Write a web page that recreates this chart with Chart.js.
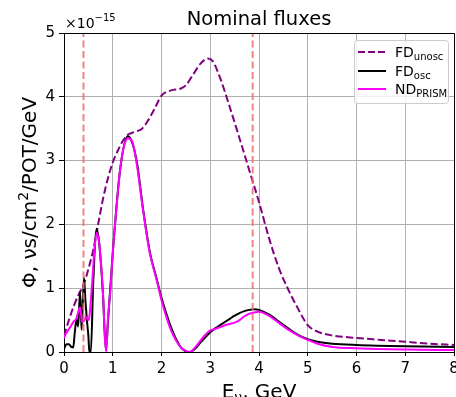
<!DOCTYPE html>
<html>
<head>
<meta charset="utf-8">
<script src="https://cdn.jsdelivr.net/npm/chart.js@4.4.1/dist/chart.umd.min.js"></script>
<style>
  html, body { margin: 0; padding: 0; background: #fff; }
  canvas { display: block; }
</style>
</head>
<body>
<canvas id="fluxChart" width="456" height="397"></canvas>
<script>
// fluxes in units of 1e-15 nu/cm2/POT/GeV, energies in GeV
const unoscEnergy = [0, 0.1, 0.2, 0.3, 0.4, 0.5, 0.6, 0.7, 0.8, 0.9, 1.0, 1.1, 1.2, 1.3, 1.45, 1.6, 1.7, 1.85, 2.0, 2.2, 2.4, 2.5, 2.65, 2.8, 2.95, 3.05, 3.2, 3.4, 3.6, 3.8, 4.0, 4.2, 4.4, 4.6, 4.8, 5.0, 5.2, 5.5, 6.0, 6.5, 7.0, 7.5, 8.0];
const unoscFlux = [0.25, 0.5, 0.72, 0.9, 1.05, 1.3, 1.6, 2.0, 2.4, 2.72, 2.97, 3.15, 3.3, 3.4, 3.45, 3.5, 3.6, 3.8, 4.02, 4.1, 4.13, 4.18, 4.35, 4.52, 4.6, 4.56, 4.3, 3.84, 3.35, 2.85, 2.35, 1.8, 1.33, 0.98, 0.68, 0.42, 0.32, 0.26, 0.22, 0.19, 0.16, 0.13, 0.11];

const oscEnergy = [0, 0.05, 0.1, 0.15, 0.19, 0.22, 0.26, 0.29, 0.33, 0.36, 0.41, 0.44, 0.47, 0.5, 0.52, 0.55, 0.6, 0.67, 0.72, 0.77, 0.8, 0.86, 0.9, 1.0, 1.15, 1.31, 1.4, 1.5, 1.62, 1.76, 1.9, 2.0, 2.1, 2.2, 2.3, 2.4, 2.5, 2.58, 2.7, 2.8, 2.9, 3.0, 3.1, 3.2, 3.3, 3.4, 3.5, 3.6, 3.7, 3.8, 3.9, 4.0, 4.1, 4.2, 4.3, 4.4, 4.6, 4.8, 5.0, 5.2, 5.5, 6.0, 7.0, 8.0];
const oscFlux = [0.05, 0.12, 0.12, 0.08, 0.07, 0.3, 0.52, 0.4, 0.95, 0.35, 1.17, 0.8, 0.5, 0.25, 0.0, 0.0, 1.1, 1.93, 1.72, 1.25, 0.9, 0.03, 0.45, 1.55, 2.85, 3.38, 3.28, 2.95, 2.25, 1.57, 1.15, 0.85, 0.6, 0.38, 0.2, 0.07, 0.01, 0.0, 0.06, 0.15, 0.23, 0.31, 0.37, 0.42, 0.47, 0.52, 0.57, 0.61, 0.64, 0.66, 0.67, 0.66, 0.63, 0.59, 0.54, 0.48, 0.37, 0.27, 0.2, 0.16, 0.13, 0.11, 0.09, 0.08];

const prismEnergy = [0, 0.05, 0.12, 0.2, 0.25, 0.33, 0.37, 0.42, 0.45, 0.5, 0.52, 0.57, 0.63, 0.67, 0.72, 0.77, 0.8, 0.84, 0.87, 0.9, 0.95, 1.0, 1.07, 1.15, 1.23, 1.31, 1.4, 1.49, 1.62, 1.76, 1.9, 2.0, 2.1, 2.17, 2.25, 2.33, 2.4, 2.47, 2.58, 2.7, 2.78, 2.9, 3.0, 3.1, 3.2, 3.3, 3.4, 3.5, 3.6, 3.7, 3.8, 3.9, 4.0, 4.1, 4.2, 4.3, 4.4, 4.6, 4.8, 5.0, 5.2, 5.5, 6.0, 7.0, 8.0];
const prismFlux = [0.22, 0.3, 0.38, 0.48, 0.52, 0.7, 0.47, 0.5, 0.55, 0.5, 0.55, 1.0, 1.65, 1.87, 1.72, 1.29, 0.92, 0.2, 0.01, 0.5, 0.95, 1.55, 2.2, 2.85, 3.22, 3.35, 3.3, 2.96, 2.23, 1.55, 1.13, 0.81, 0.55, 0.39, 0.25, 0.14, 0.07, 0.03, 0.0, 0.08, 0.16, 0.27, 0.34, 0.36, 0.39, 0.42, 0.44, 0.46, 0.5, 0.56, 0.6, 0.62, 0.63, 0.61, 0.57, 0.52, 0.46, 0.35, 0.26, 0.19, 0.13, 0.08, 0.06, 0.04, 0.03];

// oscillation maxima marked with vertical dashed lines
const markerEnergy = [0.4, 3.87];

const xTicks = [0, 1, 2, 3, 4, 5, 6, 7, 8];
const yTicks = [0, 1, 2, 3, 4, 5];

const FONT = '"DejaVu Sans", sans-serif';

function toPoints(xs, ys) {
    return xs.map((x, i) => ({ x: x, y: ys[i] }));
}

// draws "main" followed by a subscript/superscript, returns total width
function textWithSub(ctx, x, y, main, sub, size, subSize, shift) {
    ctx.font = size + 'px ' + FONT;
    ctx.fillText(main, x, y);
    const w = ctx.measureText(main).width;
    ctx.font = subSize + 'px ' + FONT;
    ctx.fillText(sub, x + w, y + shift);
    return w + ctx.measureText(sub).width;
}

function measureSub(ctx, main, sub, size, subSize) {
    ctx.font = size + 'px ' + FONT;
    const w = ctx.measureText(main).width;
    ctx.font = subSize + 'px ' + FONT;
    return w + ctx.measureText(sub).width;
}

const legendItems = [
    { main: 'FD', sub: 'unosc', color: '#800080', dash: [7, 3] },
    { main: 'FD', sub: 'osc', color: '#000000', dash: [] },
    { main: 'ND', sub: 'PRISM', color: '#ff00ff', dash: [] }
];

const textPlugin = {
    id: 'textPlugin',
    afterDraw(chart) {
        const ctx = chart.ctx;
        const area = chart.chartArea;
        ctx.save();

        // top and right spines
        ctx.strokeStyle = '#000';
        ctx.lineWidth = 1;
        ctx.beginPath();
        ctx.moveTo(area.left, Math.round(area.top) + 0.5);
        ctx.lineTo(Math.round(area.right) + 0.5, Math.round(area.top) + 0.5);
        ctx.lineTo(Math.round(area.right) + 0.5, area.bottom);
        ctx.stroke();

        ctx.fillStyle = '#000';
        ctx.textBaseline = 'alphabetic';

        // title
        ctx.font = '19.5px ' + FONT;
        ctx.textAlign = 'center';
        ctx.fillText('Nominal fluxes', (area.left + area.right) / 2, 25);
        ctx.textAlign = 'left';

        // offset text
        textWithSub(ctx, area.left + 1, 28, '\u00d710', '\u221215', 14, 10, -7);

        // x axis label
        const xw = measureSub(ctx, 'E', '\u03bd', 20, 14);
        ctx.font = '20px ' + FONT;
        const restW = ctx.measureText(', GeV').width;
        const x0 = (area.left + area.right) / 2 - (xw + restW) / 2;
        textWithSub(ctx, x0, 398, 'E', '\u03bd', 20, 14, 4);
        ctx.font = '20px ' + FONT;
        ctx.fillText(', GeV', x0 + xw, 398);

        // y axis label, rotated
        ctx.save();
        ctx.translate(36, (area.top + area.bottom) / 2);
        ctx.rotate(-Math.PI / 2);
        const partA = '\u03a6, \u03bds/cm';
        const partC = '/POT/GeV';
        ctx.font = '20px ' + FONT;
        const wa = ctx.measureText(partA).width;
        const wc = ctx.measureText(partC).width;
        ctx.font = '14px ' + FONT;
        const wb = ctx.measureText('2').width;
        const yx = -(wa + wb + wc) / 2;
        ctx.font = '20px ' + FONT;
        ctx.fillText(partA, yx, 0);
        ctx.font = '14px ' + FONT;
        ctx.fillText('2', yx + wa, -8);
        ctx.font = '20px ' + FONT;
        ctx.fillText(partC, yx + wa + wb, 0);
        ctx.restore();

        // legend box
        ctx.beginPath();
        ctx.roundRect(354.5, 40.5, 94, 63, 3);
        ctx.fillStyle = 'rgba(255,255,255,0.8)';
        ctx.fill();
        ctx.strokeStyle = '#cccccc';
        ctx.lineWidth = 1;
        ctx.stroke();

        const rows = [52, 71, 89];
        legendItems.forEach((item, i) => {
            const y = rows[i];
            ctx.beginPath();
            ctx.setLineDash(item.dash);
            ctx.strokeStyle = item.color;
            ctx.lineWidth = 2;
            ctx.moveTo(358, y);
            ctx.lineTo(386, y);
            ctx.stroke();
            ctx.setLineDash([]);
            ctx.fillStyle = '#000';
            textWithSub(ctx, 395, y + 5, item.main, item.sub, 14, 10, 3);
        });

        ctx.restore();
    }
};

function lineSet(label, xs, ys, color, width, dash) {
    return {
        label: label,
        data: toPoints(xs, ys),
        borderColor: color,
        backgroundColor: color,
        borderWidth: width,
        borderDash: dash,
        pointRadius: 0,
        fill: false,
        cubicInterpolationMode: 'monotone'
    };
}

// first dataset is drawn on top
const datasets = [];
markerEnergy.forEach(e => {
    const ds = lineSet('marker', [e, e], [yTicks[0], yTicks[yTicks.length - 1]], 'rgba(240,110,110,0.85)', 2, [7, 3.5]);
    ds.cubicInterpolationMode = 'default';
    datasets.push(ds);
});
datasets.push(lineSet('ND PRISM', prismEnergy, prismFlux, '#ff00ff', 2, []));
datasets.push(lineSet('FD osc', oscEnergy, oscFlux, '#000000', 2, []));
datasets.push(lineSet('FD unosc', unoscEnergy, unoscFlux, '#800080', 2, [7.4, 3.2]));

const ctx = document.getElementById('fluxChart').getContext('2d');
const fluxChart = new Chart(ctx, {
    type: 'line',
    data: { datasets: datasets },
    options: {
        responsive: false,
        animation: false,
        layout: { padding: { top: 33, left: 0, right: 2, bottom: 0 } },
        plugins: {
            legend: { display: false },
            title: { display: false },
            tooltip: { enabled: false }
        },
        scales: {
            x: {
                type: 'linear',
                min: xTicks[0],
                max: xTicks[xTicks.length - 1],
                afterBuildTicks: scale => { scale.ticks = xTicks.map(v => ({ value: v })); },
                afterFit: scale => {
                    scale.height = 45;
                    scale.paddingLeft = 0;
                    scale.paddingRight = 0;
                },
                grid: { color: '#b0b0b0', lineWidth: 1, tickColor: '#000', tickLength: 4 },
                border: { color: '#000', width: 1 },
                ticks: { color: '#000', padding: 4, font: { family: FONT, size: 15 }, maxRotation: 0 }
            },
            y: {
                type: 'linear',
                min: yTicks[0],
                max: yTicks[yTicks.length - 1],
                afterBuildTicks: scale => { scale.ticks = yTicks.map(v => ({ value: v })); },
                afterFit: scale => {
                    scale.width = 64;
                    scale.paddingTop = 0;
                    scale.paddingBottom = 0;
                },
                grid: { color: '#b0b0b0', lineWidth: 1, tickColor: '#000', tickLength: 5 },
                border: { color: '#000', width: 1 },
                ticks: { color: '#000', padding: 4, font: { family: FONT, size: 15 } }
            }
        }
    },
    plugins: [textPlugin]
});
</script>
</body>
</html>
